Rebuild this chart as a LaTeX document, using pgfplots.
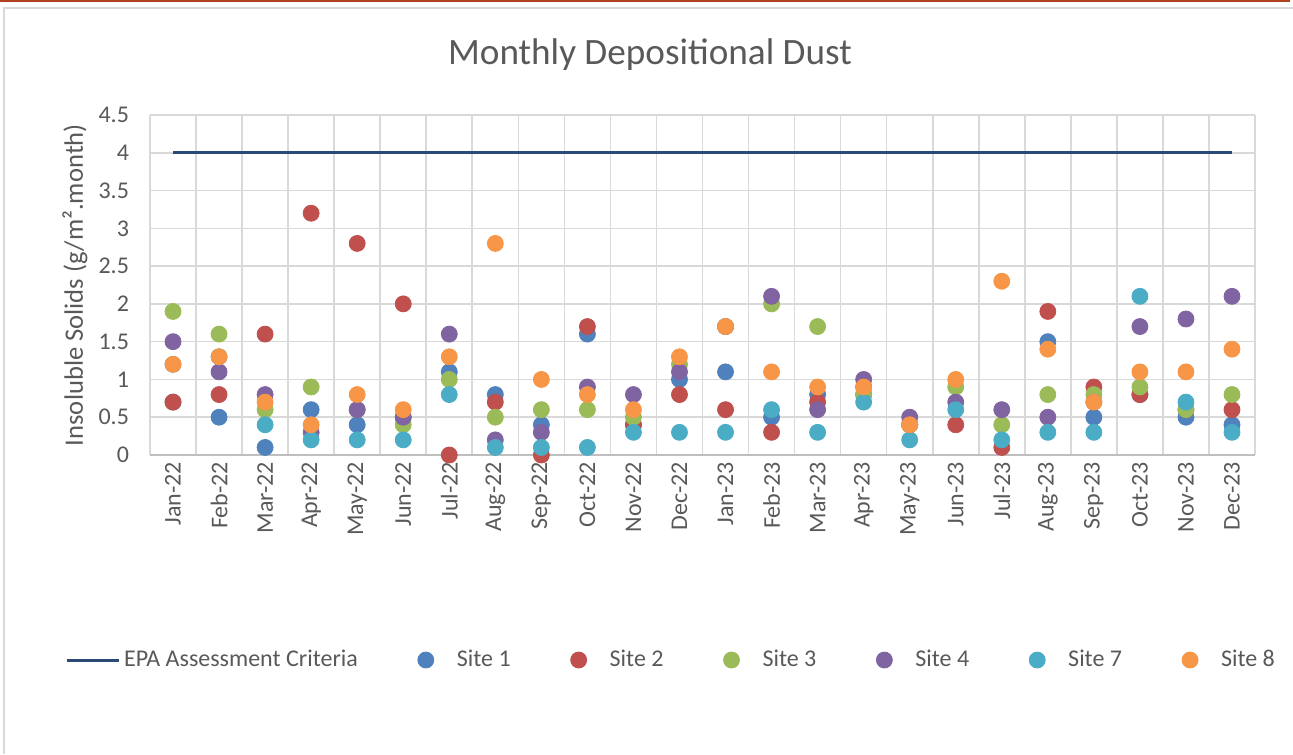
\documentclass[border=0pt]{standalone}
\usepackage{fontspec}
\setmainfont{Carlito}
\usepackage{pgfplots}
\pgfplotsset{compat=1.18}
\definecolor{sone}{HTML}{4F81BD}
\definecolor{stwo}{HTML}{C0504D}
\definecolor{sthree}{HTML}{9BBB59}
\definecolor{sfour}{HTML}{8064A2}
\definecolor{sseven}{HTML}{4BACC6}
\definecolor{seight}{HTML}{F79646}
\definecolor{epa}{HTML}{2C4A78}
\definecolor{txt}{HTML}{595959}
\definecolor{gridc}{HTML}{D9D9D9}
\definecolor{axisc}{HTML}{BFBFBF}
\definecolor{framered}{HTML}{B0441F}
\definecolor{framegray}{HTML}{D9D9D9}
\pgfplotsset{
  sitemark/.style={only marks, mark=*, mark size=4pt, mark options={draw=#1, fill=#1}, color=#1,
    legend image code/.code={\path[draw=none] (-4pt,0pt) -- (13.5pt,0pt); \fill[#1] (0pt,0pt) circle (4pt);}},
}
\begin{document}
\begin{tikzpicture}
\path[use as bounding box] (0,0) rectangle (646.5pt,377pt);
\draw[color=framered, line width=1.2pt] (0,376.4pt) -- (645pt,376.4pt);
\draw[color=framegray, line width=1pt] (2pt,0) -- (2pt,373pt) -- (646.5pt,373pt);
\node[text=txt, font=\fontsize{18.6}{22}\selectfont] at (325pt,349.5pt) {Monthly Depositional Dust};
\begin{axis}[
  at={(75pt,149.5pt)}, anchor=south west,
  width=552.5pt, height=170pt, scale only axis,
  xmin=-0.5, xmax=23.5, ymin=0, ymax=4.5,
  ytick={0,0.5,1,1.5,2,2.5,3,3.5,4,4.5},
  xtick={0,...,23},
  xticklabels={Jan-22,Feb-22,Mar-22,Apr-22,May-22,Jun-22,Jul-22,Aug-22,Sep-22,Oct-22,Nov-22,Dec-22,Jan-23,Feb-23,Mar-23,Apr-23,May-23,Jun-23,Jul-23,Aug-23,Sep-23,Oct-23,Nov-23,Dec-23},
  minor xtick={-0.5,0.5,...,23.5},
  xminorgrids=true, ymajorgrids=true,
  minor x grid style={color=gridc, line width=0.8pt},
  major y grid style={color=gridc, line width=0.8pt},
  major tick length=0pt, minor tick length=0pt,
  axis x line*=bottom, axis y line*=left,
  x axis line style={color=axisc, line width=0.8pt},
  y axis line style={draw=none},
  /pgf/number format/assume math mode=true,
  ticklabel style={font=\fontsize{12}{14}\selectfont, text=txt},
  xticklabel style={rotate=90, anchor=east},
  yticklabel style={xshift=-7pt},
  ylabel={Insoluble Solids (g/m².month)},
  ylabel style={at={(axis description cs:-0.0679,0.5)}, anchor=center, font=\fontsize{13.3}{16}\selectfont, text=txt},
  legend columns=7,
  legend style={at={(axis description cs:0.4724,-0.603)}, anchor=center, draw=none, fill=none,
    font=\fontsize{12}{14}\selectfont, text=txt,
    /tikz/every even column/.append style={column sep=27.8pt}},
  clip=false,
]
\addplot[color=epa, line width=1.5pt, no marks,
  legend image code/.code={\draw[color=epa, line width=1.5pt] (0pt,0pt) -- (26pt,0pt);}]
  coordinates {(0,4) (1,4) (2,4) (3,4) (4,4) (5,4) (6,4) (7,4) (8,4) (9,4) (10,4) (11,4) (12,4) (13,4) (14,4) (15,4) (16,4) (17,4) (18,4) (19,4) (20,4) (21,4) (22,4) (23,4)};
\addlegendentry{EPA Assessment Criteria}
\addplot[sitemark=sone] coordinates {(0,0.7) (1,0.5) (2,0.1) (3,0.6) (4,0.4) (5,0.5) (6,1.1) (7,0.8) (8,0.4) (9,1.6) (10,0.4) (11,1.0) (12,1.1) (13,0.5) (14,0.8) (15,0.8) (16,0.4) (19,1.5) (20,0.5) (21,0.8) (22,0.5) (23,0.4)};
\addlegendentry{Site 1}
\addplot[sitemark=stwo] coordinates {(0,0.7) (1,0.8) (2,1.6) (3,3.2) (4,2.8) (5,2.0) (6,0.0) (7,0.7) (8,0.0) (9,1.7) (10,0.4) (11,0.8) (12,0.6) (13,0.3) (14,0.7) (15,0.9) (16,0.4) (17,0.4) (18,0.1) (19,1.9) (20,0.9) (21,0.8) (22,0.6) (23,0.6)};
\addlegendentry{Site 2}
\addplot[sitemark=sthree] coordinates {(0,1.9) (1,1.6) (2,0.6) (3,0.9) (4,0.6) (5,0.4) (6,1.0) (7,0.5) (8,0.6) (9,0.6) (10,0.5) (11,1.2) (12,1.7) (13,2.0) (14,1.7) (15,0.8) (16,0.4) (17,0.9) (18,0.4) (19,0.8) (20,0.8) (21,0.9) (22,0.6) (23,0.8)};
\addlegendentry{Site 3}
\addplot[sitemark=sfour] coordinates {(0,1.5) (1,1.1) (2,0.8) (3,0.3) (4,0.6) (5,0.5) (6,1.6) (7,0.2) (8,0.3) (9,0.9) (10,0.8) (11,1.1) (12,1.7) (13,2.1) (14,0.6) (15,1.0) (16,0.5) (17,0.7) (18,0.6) (19,0.5) (20,0.7) (21,1.7) (22,1.8) (23,2.1)};
\addlegendentry{Site 4}
\addplot[sitemark=sseven] coordinates {(0,1.2) (1,1.3) (2,0.4) (3,0.2) (4,0.2) (5,0.2) (6,0.8) (7,0.1) (8,0.1) (9,0.1) (10,0.3) (11,0.3) (12,0.3) (13,0.6) (14,0.3) (15,0.7) (16,0.2) (17,0.6) (18,0.2) (19,0.3) (20,0.3) (21,2.1) (22,0.7) (23,0.3)};
\addlegendentry{Site 7}
\addplot[sitemark=seight] coordinates {(0,1.2) (1,1.3) (2,0.7) (3,0.4) (4,0.8) (5,0.6) (6,1.3) (7,2.8) (8,1.0) (9,0.8) (10,0.6) (11,1.3) (12,1.7) (13,1.1) (14,0.9) (15,0.9) (16,0.4) (17,1.0) (18,2.3) (19,1.4) (20,0.7) (21,1.1) (22,1.1) (23,1.4)};
\addlegendentry{Site 8}
\end{axis}
\end{tikzpicture}
\end{document}
